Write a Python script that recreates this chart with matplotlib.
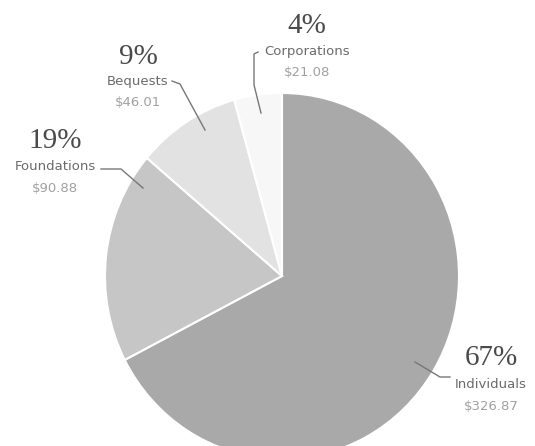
import matplotlib
matplotlib.use("Agg")
import matplotlib.pyplot as plt

# ---------------------------------------------------------------------------
# Data
# ---------------------------------------------------------------------------
sources = ["Individuals", "Foundations", "Bequests", "Corporations"]
amounts = [326.87, 90.88, 46.01, 21.08]
percent_labels = ["67%", "19%", "9%", "4%"]
amount_labels = ["$326.87", "$90.88", "$46.01", "$21.08"]

colors = ["#a9a9a9", "#c6c6c6", "#e2e2e2", "#f7f7f7"]

W, H = 535, 446
# the scanned pie is a little taller than it is wide
YSCALE = 183 / 177


def img_y(y):
    # convert image-pixel y (top down) to data y (bottom up)
    return (H - y) / YSCALE


fig = plt.figure(figsize=(W / 100, H / 100), dpi=100)
ax = fig.add_axes([0, 0, 1, 1])

ax.pie(amounts, colors=colors, startangle=90, counterclock=False,
       center=(282, img_y(276)), radius=177,
       wedgeprops=dict(edgecolor="white", linewidth=1.5))

# pie() resets the limits, so set them afterwards
ax.set_xlim(0, W)
ax.set_ylim(0, H / YSCALE)
ax.set_aspect("auto")
ax.axis("off")

# label blocks: (x, y of percent, y of name, y of amount) in image pixels
label_pos = {
    "Individuals": (491, 358, 384, 407),
    "Foundations": (55, 141, 167, 188),
    "Bequests": (138, 57, 82, 103),
    "Corporations": (307, 26, 52, 73),
}

# leader lines in image pixels
leaders = {
    "Individuals": [(415, 362), (440, 377), (450, 377)],
    "Foundations": [(101, 169), (121, 169), (143, 188)],
    "Bequests": [(172, 81), (180, 84), (205, 130)],
    "Corporations": [(258, 52), (254, 54), (254, 85), (261, 113)],
}

for name, pct, amt in zip(sources, percent_labels, amount_labels):
    x, yp, yn, ya = label_pos[name]
    ax.text(x, img_y(yp), pct, ha="center", va="center",
            family="Liberation Serif", fontsize=21, color="#4a4a4a")
    ax.text(x, img_y(yn), name, ha="center", va="center",
            family="DejaVu Sans", fontsize=9.5, color="#6a6a6a")
    ax.text(x, img_y(ya), amt, ha="center", va="center",
            family="DejaVu Sans", fontsize=9.5, color="#a0a0a0")
    pts = leaders[name]
    ax.plot([p[0] for p in pts], [img_y(p[1]) for p in pts],
            color="#777777", linewidth=1.0)

fig.savefig("out.png", dpi=100)
